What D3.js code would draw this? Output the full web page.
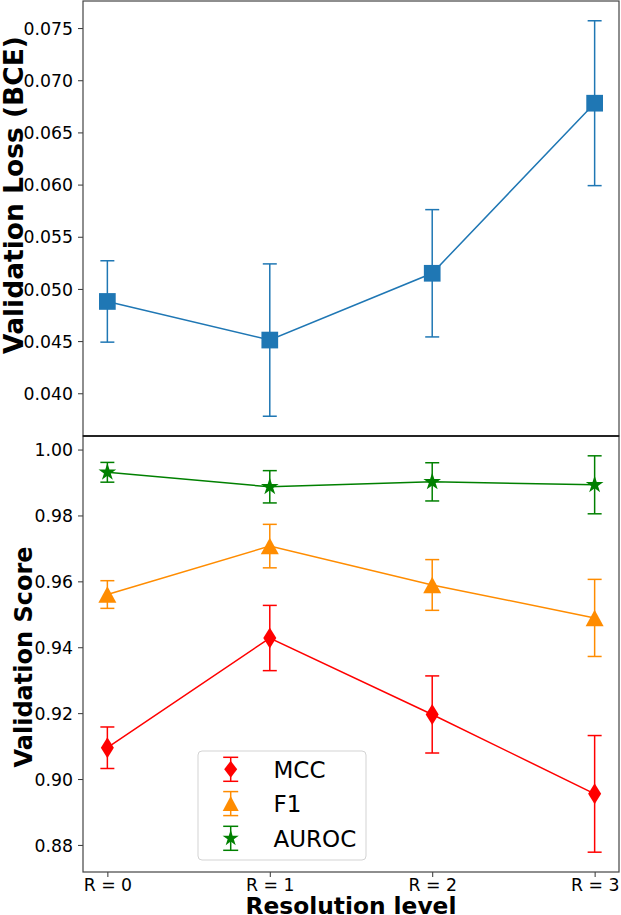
<!DOCTYPE html>
<html>
<head>
<meta charset="utf-8">
<script src="https://cdn.jsdelivr.net/npm/d3@7"></script>
<style>
  html, body { margin: 0; padding: 0; background: #fff; }
  svg { display: block; font-family: "DejaVu Sans", sans-serif; }
</style>
</head>
<body>
<svg id="chart" width="621" height="915"></svg>
<script>
// ---------------- data ----------------
const categories = ["R = 0", "R = 1", "R = 2", "R = 3"];
const lossMean = [0.0488, 0.0451, 0.0515, 0.0678];
const lossErr  = [0.0039, 0.0073, 0.0061, 0.0079];
const mccMean  = [0.9095, 0.9428, 0.9196, 0.8955];
const mccErr   = [0.0063, 0.0099, 0.0117, 0.0177];
const f1Mean   = [0.9560, 0.9707, 0.9589, 0.9489];
const f1Err    = [0.0042, 0.0066, 0.0077, 0.0117];
const aucMean  = [0.9931, 0.9887, 0.9902, 0.9893];
const aucErr   = [0.0030, 0.0049, 0.0058, 0.0088];
const lossTicks  = [0.040, 0.045, 0.050, 0.055, 0.060, 0.065, 0.070, 0.075];
const scoreTicks = [0.88, 0.90, 0.92, 0.94, 0.96, 0.98, 1.00];
const seriesNames = ["MCC", "F1", "AUROC"];

// ---------------- layout ----------------
const svg = d3.select("#chart");
const L = 83, R = 619;
const topY0 = 1, topY1 = 436, botY0 = 436, botY1 = 872;
const tickFont = 17.3;

const x = d3.scaleLinear().domain([-0.15, 3.15]).range([L, R]);

function paddedDomain(means, errs) {
  const lo = d3.min(means.map((m, i) => m - errs[i]));
  const hi = d3.max(means.map((m, i) => m + errs[i]));
  const pad = (hi - lo) * 0.05;
  return [lo - pad, hi + pad];
}
const yTop = d3.scaleLinear().domain(paddedDomain(lossMean, lossErr)).range([topY1, topY0]);
const allMeans = mccMean.concat(f1Mean, aucMean);
const allErrs = mccErr.concat(f1Err, aucErr);
const yBot = d3.scaleLinear().domain(paddedDomain(allMeans, allErrs)).range([botY1, botY0]);

// ---------------- marker shapes ----------------
function squarePath(s) { const h = s / 2; return `M${-h},${-h}H${h}V${h}H${-h}Z`; }
function diamondPath(w, h) { return `M0,${-h/2}L${w/2},0L0,${h/2}L${-w/2},0Z`; }
function trianglePath(w, h) { return `M0,${-h/2}L${w/2},${h/2}L${-w/2},${h/2}Z`; }
function starPath(r) {
  const ri = r * 0.381966; let p = "";
  for (let k = 0; k < 10; k++) {
    const rr = k % 2 === 0 ? r : ri;
    const a = -Math.PI / 2 + k * Math.PI / 5;
    p += (k === 0 ? "M" : "L") + (rr * Math.cos(a)).toFixed(2) + "," + (rr * Math.sin(a)).toFixed(2);
  }
  return p + "Z";
}

// ---------------- series drawing ----------------
function drawSeries(g, yScale, means, errs, color, shape) {
  const pts = means.map((m, i) => ({ i, m, e: errs[i] }));
  g.append("path")
    .attr("d", d3.line().x(d => x(d.i)).y(d => yScale(d.m))(pts))
    .attr("fill", "none").attr("stroke", color).attr("stroke-width", 1.5);
  const cap = 7;
  const eb = g.append("g").attr("stroke", color).attr("stroke-width", 1.5).attr("fill", "none");
  pts.forEach(d => {
    const cx = x(d.i), y1 = yScale(d.m + d.e), y2 = yScale(d.m - d.e);
    eb.append("line").attr("x1", cx).attr("x2", cx).attr("y1", y1).attr("y2", y2);
    eb.append("line").attr("x1", cx - cap).attr("x2", cx + cap).attr("y1", y1).attr("y2", y1);
    eb.append("line").attr("x1", cx - cap).attr("x2", cx + cap).attr("y1", y2).attr("y2", y2);
  });
  g.selectAll(null).data(pts).enter().append("path")
    .attr("d", shape)
    .attr("transform", d => `translate(${x(d.i)},${yScale(d.m)})`)
    .attr("fill", color);
}

// ---------------- axes ----------------
function yAxis(scale, ticks, fmt) {
  const g = svg.append("g").attr("transform", `translate(${L},0)`)
    .call(d3.axisLeft(scale).tickValues(ticks).tickFormat(d3.format(fmt)).tickSize(5).tickPadding(5));
  g.select(".domain").remove();
  g.selectAll(".tick line").attr("stroke", "#333").attr("stroke-width", 1);
  g.selectAll(".tick text").attr("font-size", tickFont).attr("font-family", "DejaVu Sans").attr("fill", "#000").attr("dy", "0.36em");
}
yAxis(yTop, lossTicks, ".3f");
yAxis(yBot, scoreTicks, ".2f");

const xg = svg.append("g").attr("transform", `translate(0,${botY1})`)
  .call(d3.axisBottom(x).tickValues(d3.range(categories.length)).tickFormat(i => categories[i]).tickSize(5).tickPadding(2));
xg.select(".domain").remove();
xg.selectAll(".tick line").attr("stroke", "#333");
xg.selectAll(".tick text").attr("font-size", tickFont).attr("font-family", "DejaVu Sans").attr("fill", "#000");

// ---------------- data marks ----------------
const gTop = svg.append("g");
drawSeries(gTop, yTop, lossMean, lossErr, "#1f77b4", squarePath(16.7));
const gBot = svg.append("g");
const colors = ["#ff0000", "#ff8c00", "#008000"];
const shapes = [diamondPath(13, 21), trianglePath(18, 16.5), starPath(9.3)];
drawSeries(gBot, yBot, mccMean, mccErr, colors[0], shapes[0]);
drawSeries(gBot, yBot, f1Mean, f1Err, colors[1], shapes[1]);
drawSeries(gBot, yBot, aucMean, aucErr, colors[2], shapes[2]);

// ---------------- frames ----------------
svg.append("rect").attr("x", L).attr("y", topY0).attr("width", R - L).attr("height", topY1 - topY0)
  .attr("fill", "none").attr("stroke", "#444").attr("stroke-width", 1.2);
svg.append("rect").attr("x", L).attr("y", botY0).attr("width", R - L).attr("height", botY1 - botY0)
  .attr("fill", "none").attr("stroke", "#444").attr("stroke-width", 1.2);
svg.append("line").attr("x1", L).attr("x2", R).attr("y1", topY1).attr("y2", topY1)
  .attr("stroke", "#111").attr("stroke-width", 1.5);

// ---------------- legend ----------------
const lg = svg.append("g");
lg.append("rect").attr("x", 198).attr("y", 751).attr("width", 168).attr("height", 109)
  .attr("rx", 4).attr("fill", "#fff").attr("fill-opacity", 0.8).attr("stroke", "#d3d3d3").attr("stroke-width", 1);
const rowY = [769.3, 803.6, 838.3];
const hx = 230.7;
const legendShapes = [diamondPath(13, 17), trianglePath(16, 15), starPath(8.5)];
seriesNames.forEach((name, k) => {
  const cy = rowY[k], c = colors[k];
  const g = lg.append("g").attr("stroke", c).attr("stroke-width", 1.5);
  g.append("line").attr("x1", hx).attr("x2", hx).attr("y1", cy - 12).attr("y2", cy + 12);
  g.append("line").attr("x1", hx - 7.5).attr("x2", hx + 7.5).attr("y1", cy - 12).attr("y2", cy - 12);
  g.append("line").attr("x1", hx - 7.5).attr("x2", hx + 7.5).attr("y1", cy + 12).attr("y2", cy + 12);
  lg.append("path").attr("d", legendShapes[k]).attr("transform", `translate(${hx},${cy})`).attr("fill", c);
  lg.append("text").attr("x", 273.5).attr("y", cy).attr("dy", "0.36em")
    .attr("font-size", 23).attr("fill", "#000").text(name);
});

// ---------------- axis titles ----------------
svg.append("text").attr("transform", "translate(23,195) rotate(-90)")
  .attr("text-anchor", "middle").attr("font-weight", "bold").attr("font-size", 26.5)
  .text("Validation Loss (BCE)");
svg.append("text").attr("transform", "translate(32,657) rotate(-90)")
  .attr("text-anchor", "middle").attr("font-weight", "bold").attr("font-size", 24)
  .text("Validation Score");
svg.append("text").attr("x", (L + R) / 2).attr("y", 914)
  .attr("text-anchor", "middle").attr("font-weight", "bold").attr("font-size", 23.3)
  .text("Resolution level");
</script>
</body>
</html>
